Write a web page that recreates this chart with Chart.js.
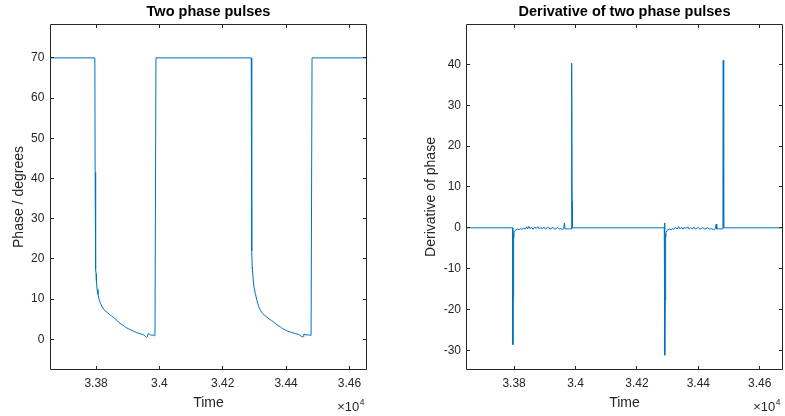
<!DOCTYPE html>
<html><head><meta charset="utf-8">
<script src="https://cdn.jsdelivr.net/npm/chart.js@4.4.0/dist/chart.umd.min.js"></script>
<style>
html,body{margin:0;padding:0;background:#fff;}
#wrap{position:relative;width:785px;height:416px;overflow:hidden;background:#fff;}
#c1{position:absolute;left:0;top:0;}
#c2{position:absolute;left:400px;top:0;}
</style></head><body>
<div id="wrap"><canvas id="c1" width="400" height="416"></canvas><canvas id="c2" width="385" height="416"></canvas></div>
<script>
// ---- data ----
const xTickValues = [33800, 34000, 34200, 34400, 34600];
const xTickLabels = ['3.38', '3.4', '3.42', '3.44', '3.46'];
const phaseTickValues = [0, 10, 20, 30, 40, 50, 60, 70];
const derivTickValues = [-30, -20, -10, 0, 10, 20, 30, 40];

const phaseTime = [
  33600, 33796, 33797, 33798, 33799, 33800, 33801, 33803, 33806, 33810, 33814, 33820, 33827, 33835,
  33842, 33849, 33856, 33863, 33871, 33879, 33887, 33895, 33903, 33911, 33919, 33927, 33935, 33943,
  33950, 33955, 33959, 33962, 33964, 33968, 33972, 33976, 33980, 33984, 33986, 33989,
  34290, 34291, 34292, 34293, 34294, 34296, 34299, 34303, 34308, 34313, 34319, 34326, 34333, 34340,
  34347, 34354, 34361, 34368, 34375, 34382, 34390, 34398, 34406, 34414, 34422, 34430, 34440, 34446,
  34451, 34454, 34456, 34460, 34466, 34472, 34477, 34479, 34482, 34700
];
const phaseValues = [
  70, 70, 41.5, 24.5, 17.5, 16.3, 14.6, 12.4, 11.2, 9.8, 8.9, 8.0, 7.2, 6.7,
  6.2, 5.8, 5.4, 4.9, 4.3, 3.8, 3.4, 2.9, 2.6, 2.3, 2.0, 1.7, 1.5, 1.3,
  1.1, 0.8, 0.5, 0.6, 1.4, 1.3, 1.1, 1.0, 1.1, 0.9, 1.0, 70,
  70, 39.5, 22, 18, 17.2, 15.0, 12.8, 11.4, 9.6, 8.3, 7.2, 6.4, 5.9, 5.5,
  5.0, 4.7, 4.3, 3.8, 3.4, 3.1, 2.6, 2.3, 2.0, 1.8, 1.6, 1.4, 1.2, 0.9,
  0.6, 0.7, 1.3, 1.2, 1.1, 1.1, 1.0, 1.0, 70, 70
];

const derivTime = [
  33600, 33795, 33796, 33797, 33798, 33799, 33800, 33802, 33806, 33811, 33816, 33821, 33826, 33831,
  33836, 33841, 33844, 33848, 33852, 33857, 33862, 33867, 33872, 33877, 33882, 33887, 33892, 33897,
  33902, 33907, 33912, 33917, 33922, 33927, 33932, 33937, 33942, 33947, 33952, 33957, 33961, 33964,
  33966, 33971, 33976, 33981, 33986, 33987, 33988, 33989, 33990,
  34289, 34290, 34291, 34292, 34293, 34294, 34295, 34297, 34301, 34306, 34311, 34316, 34321, 34326,
  34331, 34336, 34340, 34345, 34350, 34355, 34360, 34365, 34370, 34375, 34380, 34385, 34390, 34395,
  34400, 34405, 34410, 34415, 34420, 34425, 34430, 34435, 34440, 34445, 34450, 34455, 34458, 34460,
  34465, 34470, 34475, 34479, 34480, 34481, 34482, 34483, 34700
];
const derivValues = [
  0, 0, -28.6, -16.9, -1.4, -2.6, -0.9, -0.7, -0.5, -0.3, -0.45, -0.2, -0.35, -0.1,
  -0.3, 0.25, -0.3, 0.35, -0.2, 0.1, -0.35, 0.2, -0.15, 0.3, -0.3, 0.1, -0.25, 0.2,
  -0.3, -0.05, 0.15, -0.3, -0.1, 0.1, -0.35, -0.15, 0.1, -0.3, -0.2, -0.4, -0.25, 1.2,
  -0.3, -0.2, -0.3, -0.2, -0.3, 11.7, 40.3, 6.5, 0,
  0, 1.2, -31.2, -17.7, -1.5, -2.2, -0.9, -0.7, -0.5, -0.35, -0.45, -0.2, -0.35, 0.1,
  -0.3, 0.3, -0.25, 0.15, -0.35, 0.2, -0.2, 0.25, -0.3, 0.05, -0.25, 0.2, -0.3, -0.1,
  0.1, -0.35, -0.15, 0.1, -0.3, -0.2, 0.05, -0.35, -0.2, -0.3, -0.4, -0.25, 0.9, -0.3,
  -0.2, -0.3, -0.25, -0.3, 13.5, 41, 4, 0, 0
];

// ---- styling ----
const FONT = "'Liberation Sans', Arial, Helvetica, sans-serif";
const AXIS_COLOR = '#262626';
const LINE_COLOR = '#0072BD';

const boxPlugin = {
  id: 'matlabBox',
  afterDatasetsDraw(chart) {
    const {ctx, chartArea: a, scales: {x, y}} = chart;
    ctx.save();
    ctx.strokeStyle = AXIS_COLOR;
    ctx.lineWidth = 1;
    ctx.beginPath();
    ctx.rect(a.left, a.top, a.right - a.left, a.bottom - a.top);
    const tl = 3.5;
    x.ticks.forEach(t => {
      const px = Math.floor(x.getPixelForValue(t.value)) + 0.5;
      ctx.moveTo(px, a.bottom); ctx.lineTo(px, a.bottom - tl);
      ctx.moveTo(px, a.top); ctx.lineTo(px, a.top + tl);
    });
    y.ticks.forEach(t => {
      const py = Math.floor(y.getPixelForValue(t.value)) + 0.5;
      ctx.moveTo(a.left, py); ctx.lineTo(a.left + tl, py);
      ctx.moveTo(a.right, py); ctx.lineTo(a.right - tl, py);
    });
    ctx.stroke();
    // exponent label  x10^4
    ctx.fillStyle = AXIS_COLOR;
    ctx.textAlign = 'right';
    ctx.textBaseline = 'alphabetic';
    const rx = a.right - chart.options.expOffset;
    ctx.font = '8.5px ' + FONT;
    ctx.fillText('4', rx, 405);
    const w4 = ctx.measureText('4').width;
    ctx.font = '13px ' + FONT;
    ctx.fillText('\u00d710', rx - w4 - 0.5, 411);
    ctx.restore();
  }
};

function makeChart(id, cfg) {
  return new Chart(document.getElementById(id), {
    type: 'scatter',
    data: {
      datasets: [{
        data: cfg.xs.map((t, i) => ({x: t, y: cfg.ys[i]})),
        showLine: true,
        borderColor: LINE_COLOR,
        backgroundColor: LINE_COLOR,
        borderWidth: 1,
        pointRadius: 0,
        tension: 0,
        fill: false
      }]
    },
    options: {
      responsive: false,
      animation: false,
      devicePixelRatio: 1,
      expOffset: cfg.expOffset,
      layout: {padding: {left: 0, right: cfg.padRight, top: 0, bottom: 0}},
      plugins: {
        legend: {display: false},
        tooltip: {enabled: false},
        title: {
          display: true,
          text: cfg.title,
          fullSize: false,
          color: '#000',
          font: {family: FONT, size: 14.5, weight: 'bold'},
          padding: {top: 3.6, bottom: 3.5}
        }
      },
      scales: {
        x: {
          type: 'linear',
          position: 'bottom',
          min: cfg.xmin, max: cfg.xmax,
          afterBuildTicks: s => { s.ticks = xTickValues.map(v => ({value: v})); },
          afterFit: s => { s.height = 46.5; },
          grid: {display: false, drawTicks: false},
          border: {display: false},
          ticks: {
            color: AXIS_COLOR, padding: 7.1, maxRotation: 0, autoSkip: false,
            font: {family: FONT, size: 12},
            callback: (v, i) => xTickLabels[i]
          },
          title: {display: true, text: 'Time', color: AXIS_COLOR,
                  font: {family: FONT, size: 14}, padding: {top: 0, bottom: 4.8}}
        },
        y: {
          type: 'linear',
          position: 'left',
          min: cfg.ymin, max: cfg.ymax,
          afterBuildTicks: s => { s.ticks = cfg.yTicks.map(v => ({value: v})); },
          afterFit: s => { s.width = cfg.yWidth; },
          grid: {display: false, drawTicks: false},
          border: {display: false},
          ticks: {
            color: AXIS_COLOR, padding: cfg.yTickPad, autoSkip: false,
            font: {family: FONT, size: 12},
            callback: (v) => String(v)
          },
          title: {display: true, text: cfg.yTitle, color: AXIS_COLOR,
                  font: {family: FONT, size: 14}, padding: {top: cfg.yTitlePad, bottom: 0}}
        }
      }
    },
    plugins: [boxPlugin]
  });
}

makeChart('c1', {
  xs: phaseTime, ys: phaseValues,
  title: 'Two phase pulses', yTitle: 'Phase / degrees',
  xmin: 33656, xmax: 34654, ymin: -7.5, ymax: 78.3,
  yTicks: phaseTickValues, yWidth: 50.5, padRight: 33.5,
  yTickPad: 6.2, yTitlePad: 10.4, expOffset: 2
});
makeChart('c2', {
  xs: derivTime, ys: derivValues,
  title: 'Derivative of two phase pulses', yTitle: 'Derivative of phase',
  xmin: 33645, xmax: 34674, ymin: -34.7, ymax: 49.8,
  yTicks: derivTickValues, yWidth: 66.5, padRight: 2.5,
  yTickPad: 5.5, yTitlePad: 22.4, expOffset: 2
});
</script>
</body></html>
